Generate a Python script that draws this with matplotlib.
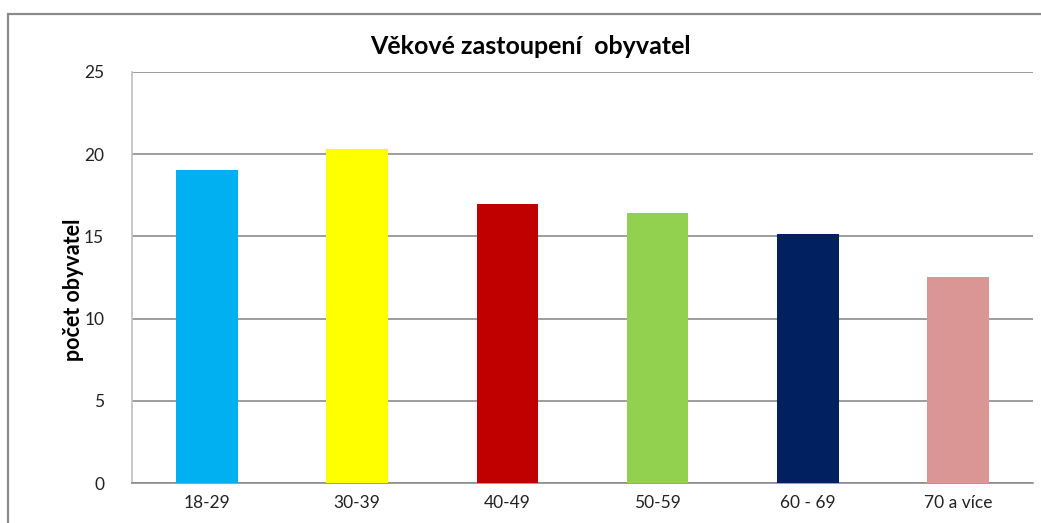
import matplotlib
matplotlib.use("Agg")
import matplotlib.pyplot as plt
from matplotlib.patches import Rectangle

categories = ["18-29", "30-39", "40-49", "50-59", "60 - 69", "70 a více"]
values = [19.05, 20.3, 17.0, 16.4, 15.15, 12.55]
colors = ["#00B0F0", "#FFFF00", "#C00000", "#92D050", "#002060", "#D99694"]
yticks = [0, 5, 10, 15, 20, 25]

plt.rcParams['font.family'] = ['Lato', 'DejaVu Sans']

W, H = 1041, 523
fig = plt.figure(figsize=(W / 100, H / 100), dpi=100)
fig.patch.set_facecolor("white")

# outer chart border (cut off at right and bottom)
fig.patches.append(Rectangle((8 / W, -0.1), 1.2, 1 - 14 / H + 0.1,
                             transform=fig.transFigure, fill=False,
                             edgecolor="#8a8a8a", linewidth=1.6))

ax = fig.add_axes([132 / W, 1 - 483 / H, (1033 - 132) / W, (483 - 72) / H])
x = range(len(categories))
ax.bar(x, values, width=0.41, color=colors, zorder=3)
ax.set_xlim(-0.5, len(categories) - 0.5)
ax.set_ylim(0, 25)
ax.set_yticks(yticks)
ax.set_xticks(list(x))
ax.set_xticklabels(categories)
ax.yaxis.grid(True, color="#8c8c8c", linewidth=1.2, zorder=0)
ax.set_axisbelow(True)
for s in ["top", "right"]:
    ax.spines[s].set_visible(False)
ax.spines["left"].set_color("#c0c0c0")
ax.spines["left"].set_linewidth(1.2)
ax.spines["bottom"].set_color("#8c8c8c")
ax.spines["bottom"].set_linewidth(1.2)
ax.tick_params(axis="both", length=0, labelsize=12.5, colors="#222222")
ax.tick_params(axis="y", pad=20)
ax.tick_params(axis="x", pad=9)

ax.set_ylabel("počet obyvatel", fontsize=15.5, fontweight="bold", labelpad=0)
ax.yaxis.set_label_coords((84 - 132) / (1033 - 132), (483 - 290) / (483 - 72))
fig.text(530 / W, 1 - 47 / H, "Věkové zastoupení  obyvatel", ha="center",
         va="center", fontsize=18, fontweight="bold")

fig.savefig("out.png", dpi=100, facecolor="white")
